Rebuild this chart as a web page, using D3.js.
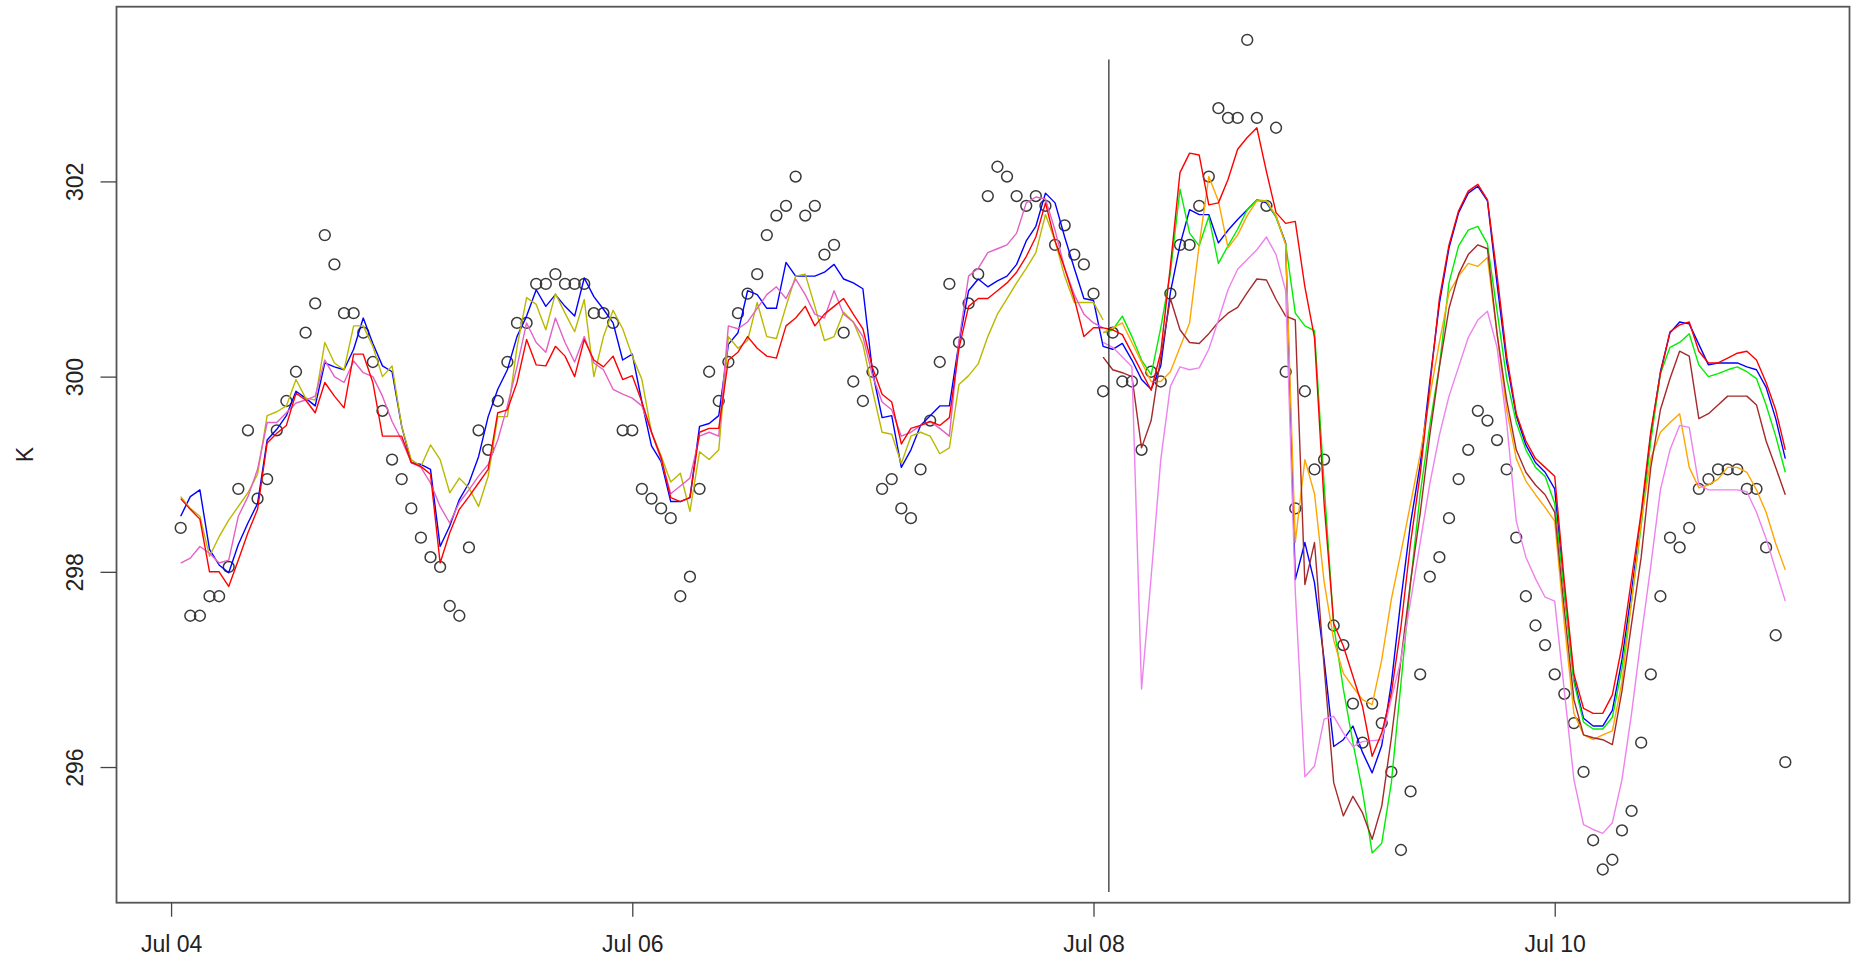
<!DOCTYPE html>
<html>
<head>
<meta charset="utf-8">
<script src="https://cdn.jsdelivr.net/npm/d3@7/dist/d3.min.js"></script>
<style>
  body { margin: 0; background: #fff; }
  svg { display: block; font-family: "Liberation Sans", Arial, Helvetica, sans-serif; }
</style>
</head>
<body>
<div id="chart"></div>
<script>
// hourly values, hour 0 = Jul 04 00:00 (UTC)
const baseDate = Date.UTC(2000, 6, 4);

// observations (circles), hours 1..168
const obsStart = 1;
const obsK = [
  298.45, 297.55, 297.55, 297.75, 297.75, 298.05, 298.85, 299.45, 298.75, 298.95, 299.45, 299.75,
  300.05, 300.45, 300.75, 301.45, 301.15, 300.65, 300.65, 300.45, 300.15, 299.65, 299.15, 298.95,
  298.65, 298.35, 298.15, 298.05, 297.65, 297.55, 298.25, 299.45, 299.25, 299.75, 300.15, 300.55,
  300.55, 300.95, 300.95, 301.05, 300.95, 300.95, 300.95, 300.65, 300.65, 300.55, 299.45, 299.45,
  298.85, 298.75, 298.65, 298.55, 297.75, 297.95, 298.85, 300.05, 299.75, 300.15, 300.65, 300.85,
  301.05, 301.45, 301.65, 301.75, 302.05, 301.65, 301.75, 301.25, 301.35, 300.45, 299.95, 299.75,
  300.05, 298.85, 298.95, 298.65, 298.55, 299.05, 299.55, 300.15, 300.95, 300.35, 300.75, 301.05,
  301.85, 302.15, 302.05, 301.85, 301.75, 301.85, 301.75, 301.35, 301.55, 301.25, 301.15, 300.85,
  299.85, 300.45, 299.95, 299.95, 299.25, 300.05, 299.95, 300.85, 301.35, 301.35, 301.75, 302.05,
  302.75, 302.65, 302.65, 303.45, 302.65, 301.75, 302.55, 300.05, 298.65, 299.85, 299.05, 299.15,
  297.45, 297.25, 296.65, 296.25, 296.65, 296.45, 295.95, 295.15, 295.75, 296.95, 297.95, 298.15,
  298.55, 298.95, 299.25, 299.65, 299.55, 299.35, 299.05, 298.35, 297.75, 297.45, 297.25, 296.95,
  296.75, 296.45, 295.95, 295.25, 294.95, 295.05, 295.35, 295.55, 296.25, 296.95, 297.75, 298.35,
  298.25, 298.45, 298.85, 298.95, 299.05, 299.05, 299.05, 298.85, 298.85, 298.25, 297.35, 296.05
];

// model lines, hours 1..168
const blueK = [
  298.57, 298.77, 298.84, 298.23, 298.07, 297.99, 298.28, 298.5, 298.7, 299.35, 299.46, 299.6,
  299.85, 299.78, 299.7, 300.14, 300.1, 300.07, 300.28, 300.6, 300.34, 300.11, 300.05, 299.49,
  299.12, 299.1, 299.05, 298.26, 298.47, 298.74, 298.91, 299.18, 299.59, 299.87, 300.07, 300.41,
  300.62, 300.89, 300.72, 300.84, 300.72, 300.62, 301.01, 300.82, 300.69, 300.55, 300.17, 300.23,
  299.74, 299.29, 299.13, 298.72, 298.72, 298.76, 299.49, 299.52, 299.6, 300.33, 300.45, 300.88,
  300.84, 300.7, 300.7, 301.17, 301.03, 301.03, 301.03, 301.07, 301.15, 301.0, 300.96, 300.9,
  300.05, 299.58, 299.6, 299.07, 299.25, 299.5, 299.6, 299.7, 299.7, 300.35, 300.88, 301.0,
  300.92, 300.98, 301.03, 301.15, 301.39, 301.54, 301.88, 301.78, 301.43, 301.11, 300.8, 300.78,
  300.31, 300.28, 300.34, 300.17, 299.97, 299.87, 300.11, 300.86, 301.35, 301.71, 301.66, 301.66,
  301.37, 301.5, 301.61, 301.71, 301.81, 301.78, 301.64, 301.37, 297.92, 298.3, 297.89, 297.1,
  296.21, 296.28, 296.42, 296.15, 295.94, 296.22, 296.86, 297.72, 298.5, 299.1, 299.95, 300.75,
  301.32, 301.68, 301.88, 301.95, 301.8, 300.95, 300.15, 299.6, 299.3, 299.12, 299.02, 298.85,
  297.8, 296.9, 296.5, 296.42, 296.42, 296.58, 297.1, 297.8, 298.55, 299.4, 300.05, 300.45,
  300.56, 300.54, 300.33, 300.12, 300.14, 300.14, 300.14, 300.1, 300.07, 299.89, 299.57, 299.16
];
const redK = [
  298.75, 298.64, 298.54, 298.0, 298.0, 297.85, 298.12, 298.4, 298.64, 299.32, 299.42, 299.5,
  299.83, 299.76, 299.63, 299.94, 299.8, 299.68, 300.23, 300.23, 299.94, 299.39, 299.39, 299.39,
  299.12, 299.08, 299.0, 298.09, 298.4, 298.64, 298.77, 298.91, 299.05, 299.63, 299.66, 299.94,
  300.38, 300.12, 300.11, 300.31, 300.21, 300.0, 300.38, 300.17, 300.1, 300.21, 299.97, 300.01,
  299.74, 299.43, 299.17, 298.76, 298.72, 298.76, 299.43, 299.47, 299.47, 300.17, 300.25, 300.41,
  300.29, 300.21, 300.19, 300.52, 300.6, 300.72, 300.52, 300.64, 300.72, 300.8, 300.64, 300.49,
  300.09, 299.82, 299.74, 299.31, 299.47, 299.5, 299.54, 299.5, 299.58, 300.29, 300.72, 300.8,
  300.8, 300.88, 300.96, 301.07, 301.23, 301.43, 301.78, 301.39, 301.11, 300.8, 300.41, 300.5,
  300.5, 300.48, 300.43, 300.24, 300.05, 299.86, 300.25, 301.13, 302.09, 302.29, 302.27, 301.76,
  301.78, 302.02, 302.33, 302.45, 302.55, 302.1, 301.68, 301.57, 301.59, 300.92, 300.4, 298.7,
  297.47, 297.24, 296.93, 296.62, 296.11, 296.35, 296.76, 297.44, 298.3, 299.0, 299.9, 300.8,
  301.35, 301.7, 301.9, 301.97, 301.81, 301.04, 300.21, 299.62, 299.34, 299.16, 299.07, 298.98,
  297.9, 296.95, 296.6, 296.55, 296.55, 296.74, 297.24, 297.93, 298.61, 299.44, 300.03, 300.46,
  300.53, 300.56, 300.26, 300.14, 300.14, 300.19, 300.24, 300.26, 300.17, 299.94, 299.66, 299.25
];

// lines that stop at the vertical line, hours 1..97
const oliveK = [
  298.77, 298.65, 298.57, 298.16, 298.36, 298.53, 298.67, 298.81, 299.0, 299.6, 299.64, 299.7,
  299.97, 299.78, 299.76, 300.35, 300.14, 300.07, 300.52, 300.52, 300.31, 300.0, 300.11, 299.49,
  299.15, 299.08, 299.3, 299.15, 298.81, 298.96, 298.86, 298.67, 298.98, 299.59, 299.59, 300.3,
  300.81, 300.74, 300.48, 300.85, 300.65, 300.46, 300.79, 300.0, 300.41, 300.68, 300.49, 300.21,
  299.97, 299.43, 299.19, 298.92, 299.01, 298.62, 299.23, 299.15, 299.25, 300.41, 300.29, 300.37,
  300.76, 300.41, 300.39, 300.72, 301.03, 301.05, 300.72, 300.37, 300.41, 300.66, 300.56, 300.33,
  299.86, 299.43, 299.41, 299.11, 299.39, 299.43, 299.39, 299.21, 299.27, 299.92, 300.01, 300.13,
  300.41, 300.64, 300.8, 300.96, 301.11, 301.27, 301.66, 301.39, 301.03, 300.76, 300.76, 300.76,
  300.58
];
const pinkK = [
  298.09, 298.14, 298.26, 298.19, 298.09, 298.12, 298.57, 298.77, 299.05, 299.53, 299.53, 299.63,
  299.73, 299.76, 299.8, 300.17, 300.0, 299.94, 300.16, 300.04, 300.0, 299.8, 299.54, 299.35,
  299.12, 299.07, 298.91, 298.67, 298.5, 298.71, 298.84, 298.98, 299.1, 299.35, 299.7, 300.1,
  300.55, 300.35, 300.25, 300.6, 300.35, 300.15, 300.41, 300.14, 300.07, 299.87, 299.82, 299.78,
  299.7, 299.43, 299.15, 298.8, 298.88, 298.96, 299.39, 299.43, 299.39, 300.52, 300.49, 300.56,
  300.7, 300.84, 300.92, 300.8, 301.0, 300.84, 300.64, 300.6, 300.88, 300.64, 300.56, 300.41,
  300.01, 299.74, 299.66, 299.39, 299.43, 299.5, 299.54, 299.47, 299.39, 300.37, 301.03, 301.11,
  301.27, 301.31, 301.35, 301.47, 301.78, 301.84, 301.82, 301.5, 301.11, 300.84, 300.64, 300.55,
  300.5
];

// lines that start at the vertical line, hours 97..168
const greenK = [
  300.45, 300.48, 300.62, 300.41, 300.17, 300.02, 300.5, 301.06, 301.92, 301.47, 301.34, 301.64,
  301.16, 301.34, 301.51, 301.71, 301.81, 301.8, 301.63, 301.36, 300.65, 300.52, 300.47, 298.9,
  297.45, 296.8, 296.25, 295.75, 295.12, 295.22, 295.84, 296.86, 297.89, 298.8, 299.5, 300.11,
  300.96, 301.34, 301.5, 301.54, 301.36, 300.67, 299.98, 299.53, 299.25, 299.07, 298.98, 298.7,
  297.79, 296.87, 296.46, 296.39, 296.39, 296.51, 297.01, 297.7, 298.47, 299.34, 300.03, 300.3,
  300.35, 300.44, 300.12, 300.0, 300.03, 300.07, 300.1, 300.05, 299.98, 299.71, 299.39, 299.02
];
const orangeK = [
  300.45, 300.5, 300.55, 300.35, 300.15, 299.95, 299.95, 300.05, 300.3, 300.55, 301.35, 302.05,
  301.8, 301.32, 301.45, 301.65, 301.8, 301.8, 301.65, 301.35, 298.3, 299.15, 298.8, 297.9,
  297.3, 296.96, 296.82, 296.69, 296.64, 297.1, 297.72, 298.2, 298.7, 299.2, 299.8, 300.35,
  300.86, 301.03, 301.16, 301.13, 301.22, 300.44, 299.66, 299.16, 298.93, 298.79, 298.66, 298.52,
  297.47, 296.55, 296.33, 296.28, 296.33, 296.37, 296.87, 297.7, 298.52, 299.16, 299.43, 299.53,
  299.62, 299.07, 298.86, 298.89, 298.95, 299.07, 299.07, 299.02, 298.84, 298.61, 298.29, 298.02
];
const brownK = [
  300.2, 300.07, 300.04, 300.0, 299.27, 299.55, 300.2, 300.8, 300.48, 300.35, 300.34, 300.44,
  300.56, 300.65, 300.71, 300.86, 301.0, 300.99, 300.79, 300.62, 300.58, 297.87, 298.3, 297.03,
  295.84, 295.5, 295.7, 295.53, 295.26, 295.6, 296.3, 297.1, 297.9, 298.6, 299.4, 300.1,
  300.7, 301.05, 301.25, 301.35, 301.31, 300.44, 299.76, 299.25, 299.02, 298.89, 298.79, 298.61,
  297.61, 296.69, 296.33, 296.3, 296.28, 296.23, 296.78, 297.47, 298.15, 299.07, 299.66, 299.98,
  300.26, 300.21, 299.57, 299.62, 299.71, 299.8, 299.8, 299.8, 299.71, 299.34, 299.07, 298.79
];
const violetK = [
  300.35, 300.3, 300.2, 300.1, 296.8, 297.95, 299.15, 299.9, 300.1, 300.07, 300.09, 300.28,
  300.58, 300.89, 301.1, 301.2, 301.3, 301.43, 301.25, 300.88, 297.8, 295.9, 296.01, 296.49,
  296.52, 296.35, 296.21, 296.26, 296.27, 296.28, 296.7, 297.1, 297.7, 298.3, 298.9, 299.4,
  299.8, 300.1, 300.4, 300.58, 300.67, 300.3, 299.53, 298.52, 298.15, 297.93, 297.74, 297.7,
  296.78, 295.87, 295.41, 295.36, 295.32, 295.43, 295.87, 296.55, 297.33, 298.06, 298.84, 299.25,
  299.5, 299.48, 298.89, 298.84, 298.84, 298.84, 298.84, 298.82, 298.61, 298.34, 298.02, 297.7
];

// vertical marker: hour and its K extent
const vlineHour = 97.6;
const vlineK = [294.72, 303.25];

const xTickHours = [0, 48, 96, 144];
const yTicks = [296, 298, 300, 302];
const yLabel = "K";

function hourDate(h) {
  return new Date(baseDate + h * 3600 * 1000);
}

function drawChart() {
  const width = 1854;
  const height = 958;
  const margin = { left: 116.5, right: 4.5, top: 6.7, bottom: 55.3 };

  const svg = d3.select("#chart")
    .append("svg")
    .attr("width", width)
    .attr("height", height);

  // R style 4% padding around the observation range
  const obsHours = obsK.map((d, i) => obsStart + i);
  const hExt = d3.extent(obsHours);
  const hPad = (hExt[1] - hExt[0]) * 0.04;
  const kExt = d3.extent(obsK);
  const kPad = (kExt[1] - kExt[0]) * 0.04;

  const x = d3.scaleUtc()
    .domain([hourDate(hExt[0] - hPad), hourDate(hExt[1] + hPad)])
    .range([margin.left, width - margin.right]);

  const y = d3.scaleLinear()
    .domain([kExt[0] - kPad, kExt[1] + kPad])
    .range([height - margin.bottom, margin.top]);

  const series = [
    { values: blueK, start: 1, color: "#0000ff" },
    { values: oliveK, start: 1, color: "#b9b900" },
    { values: pinkK, start: 1, color: "#e460c4" },
    { values: greenK, start: 97, color: "#00ee00" },
    { values: orangeK, start: 97, color: "#ffa500" },
    { values: brownK, start: 97, color: "#a52a2a" },
    { values: violetK, start: 97, color: "#ee82ee" },
    { values: redK, start: 1, color: "#ff0000" }
  ];

  const line = d3.line()
    .x(d => x(hourDate(d.h)))
    .y(d => y(d.k));

  // observation circles
  svg.append("g")
    .selectAll("circle")
    .data(obsK.map((k, i) => ({ h: obsStart + i, k: k })))
    .enter().append("circle")
    .attr("cx", d => x(hourDate(d.h)))
    .attr("cy", d => y(d.k))
    .attr("r", 5.4)
    .attr("fill", "none")
    .attr("stroke", "#3a3a3a")
    .attr("stroke-width", 1.5);

  // model lines
  svg.append("g")
    .selectAll("path")
    .data(series)
    .enter().append("path")
    .attr("d", s => line(s.values.map((k, i) => ({ h: s.start + i, k: k }))))
    .attr("fill", "none")
    .attr("stroke", s => s.color)
    .attr("stroke-width", 1.4)
    .attr("stroke-linejoin", "round");

  // vertical marker
  svg.append("line")
    .attr("x1", x(hourDate(vlineHour)))
    .attr("x2", x(hourDate(vlineHour)))
    .attr("y1", y(vlineK[0]))
    .attr("y2", y(vlineK[1]))
    .attr("stroke", "#222")
    .attr("stroke-width", 1.2);

  // plot box
  svg.append("rect")
    .attr("x", margin.left)
    .attr("y", margin.top)
    .attr("width", width - margin.left - margin.right)
    .attr("height", height - margin.top - margin.bottom)
    .attr("fill", "none")
    .attr("stroke", "#555")
    .attr("stroke-width", 1.8);

  // x axis
  const xAxis = svg.append("g")
    .attr("transform", `translate(0,${height - margin.bottom})`)
    .call(d3.axisBottom(x)
      .tickValues(xTickHours.map(hourDate))
      .tickFormat(d3.utcFormat("%b %d"))
      .tickSize(14)
      .tickSizeOuter(0));
  xAxis.select(".domain").remove();
  xAxis.selectAll("line").attr("stroke", "#444").attr("stroke-width", 1.3);
  xAxis.selectAll("text")
    .attr("y", 49)
    .attr("dy", null)
    .attr("fill", "#222")
    .style("font-size", "23px")
    .style("font-family", "Liberation Sans, Arial, sans-serif");

  // y axis
  const yAxis = svg.append("g")
    .attr("transform", `translate(${margin.left},0)`)
    .call(d3.axisLeft(y)
      .tickValues(yTicks)
      .tickFormat(d3.format("d"))
      .tickSize(16)
      .tickSizeOuter(0));
  yAxis.select(".domain").remove();
  yAxis.selectAll("line").attr("stroke", "#444").attr("stroke-width", 1.3);
  yAxis.selectAll("text")
    .attr("x", null)
    .attr("dy", null)
    .attr("transform", "translate(-34,0) rotate(-90)")
    .attr("text-anchor", "middle")
    .attr("fill", "#222")
    .style("font-size", "23px")
    .style("font-family", "Liberation Sans, Arial, sans-serif");

  // y label
  const midY = (margin.top + height - margin.bottom) / 2;
  svg.append("text")
    .attr("transform", `translate(33,${midY}) rotate(-90)`)
    .attr("text-anchor", "middle")
    .attr("fill", "#222")
    .style("font-size", "23px")
    .text(yLabel);
}

drawChart();
</script>
</body>
</html>
